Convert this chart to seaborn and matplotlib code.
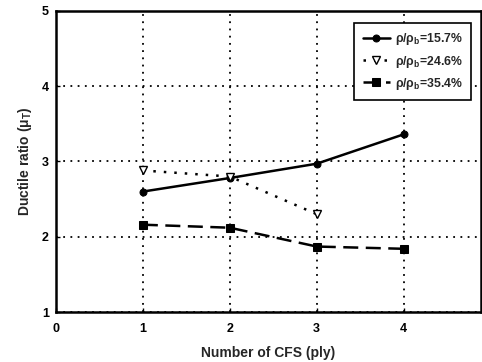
import matplotlib
matplotlib.use("Agg")
import matplotlib.pyplot as plt
import seaborn as sns
import pandas as pd

# Ductility ratio vs. number of CFS plies for three reinforcement ratios
plies = [1, 2, 3, 4]
ratio_157 = [2.60, 2.78, 2.97, 3.36]
plies_246 = [1, 2, 3]
ratio_246 = [2.88, 2.80, 2.30]
ratio_354 = [2.16, 2.12, 1.87, 1.84]

labels = ["ρ/ρ$_{b}$=15.7%", "ρ/ρ$_{b}$=24.6%", "ρ/ρ$_{b}$=35.4%"]
x_ticks = [0, 1, 2, 3, 4]
y_ticks = [1, 2, 3, 4, 5]

sns.set_style("ticks")
plt.rcParams["font.family"] = ["Liberation Sans", "DejaVu Sans"]
plt.rcParams["font.weight"] = "bold"
plt.rcParams["mathtext.fontset"] = "custom"
plt.rcParams["mathtext.rm"] = "Liberation Sans:bold"
plt.rcParams["mathtext.it"] = "Liberation Sans:bold"
plt.rcParams["mathtext.bf"] = "Liberation Sans:bold"
plt.rcParams["mathtext.default"] = "rm"

fig = plt.figure(figsize=(4.82, 3.62), dpi=100)
ax = fig.add_axes([0.116, 0.138, 0.882, 0.832])

d1 = pd.DataFrame({"x": plies, "y": ratio_157})
d2 = pd.DataFrame({"x": plies_246, "y": ratio_246})
d3 = pd.DataFrame({"x": plies, "y": ratio_354})

sns.lineplot(data=d1, x="x", y="y", ax=ax, color="black", lw=1.8,
             marker="o", markersize=5, markeredgecolor="black",
             markerfacecolor="black", label=labels[0], zorder=4)
sns.lineplot(data=d2, x="x", y="y", ax=ax, color="black", lw=1.8,
             linestyle=(0, (1, 3.2)), marker="v", markersize=6,
             markerfacecolor="white", markeredgecolor="black",
             markeredgewidth=1.0, label=labels[1], zorder=5)
sns.lineplot(data=d3, x="x", y="y", ax=ax, color="black", lw=1.8,
             linestyle=(0, (6, 3)), marker="s", markersize=5.5,
             markeredgecolor="black", markerfacecolor="black",
             label=labels[2], zorder=4)

ax.set_xlim(0, 4.89)
ax.set_ylim(1, 5)
ax.set_xticks(x_ticks)
ax.set_yticks(y_ticks)
ax.set_xticklabels([str(v) for v in x_ticks], fontsize=9, fontweight="bold")
ax.set_yticklabels([str(v) for v in y_ticks], fontsize=9, fontweight="bold")
ax.tick_params(direction="in", length=3, width=1, pad=8, colors="black")
ax.tick_params(axis="y", pad=5)

ax.grid(True, color="black", linestyle=(0, (1, 3)), linewidth=1.3)
for s in ax.spines.values():
    s.set_linewidth(1.8)
    s.set_color("black")

ax.set_xlabel("Number of CFS (ply)", fontsize=10, fontweight="bold", labelpad=8)
ax.set_ylabel("Ductile ratio (μ$_{T}$)", fontsize=10, fontweight="bold", labelpad=6)

leg = ax.legend(loc="upper right", bbox_to_anchor=(0.976, 0.96), borderaxespad=0,
                frameon=True, fancybox=False, handlelength=2.2,
                handletextpad=0.4, borderpad=0.7, labelspacing=0.5,
                prop={"weight": "bold", "size": 8.8})
leg.get_frame().set_edgecolor("black")
leg.get_frame().set_linewidth(1.2)
leg.get_frame().set_alpha(1)

fig.savefig("out.png", dpi=100)
